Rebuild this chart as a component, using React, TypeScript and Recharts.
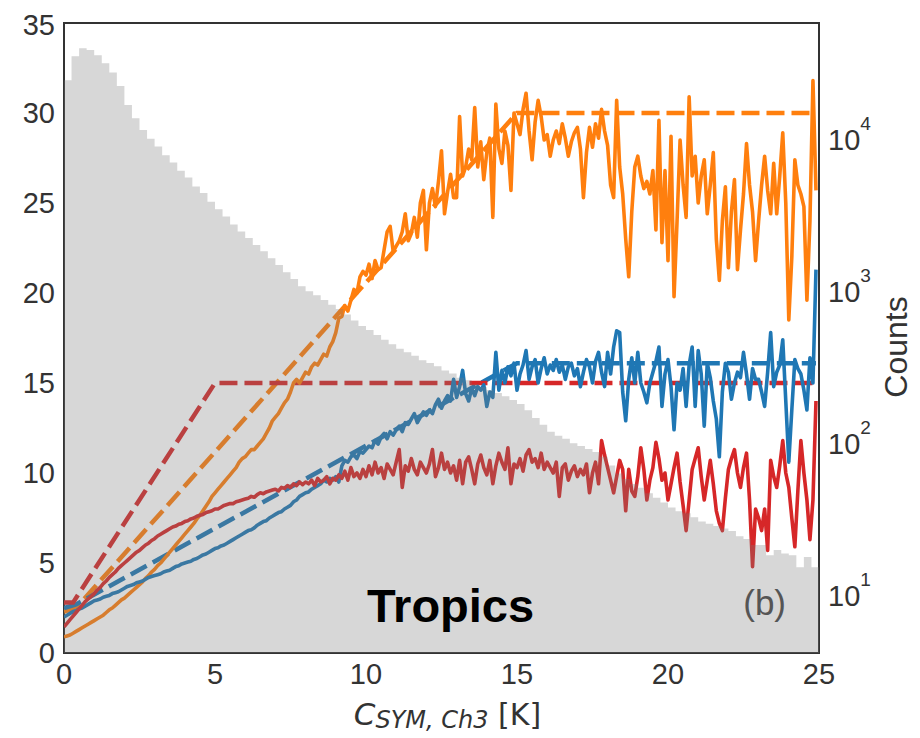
import React from 'react';
import { ComposedChart, Line, Area, XAxis, YAxis, ReferenceArea, ReferenceDot } from 'recharts';

// ---------- axes ----------
const X_TICKS = [0, 5, 10, 15, 20, 25];
const Y_TICKS = [0, 5, 10, 15, 20, 25, 30, 35];
const COUNT_TICKS = [10, 100, 1000, 10000];
const COUNT_DOMAIN = [4.09, 57100];

// ---------- histogram (counts per 0.25 K bin, starting at 0 K) ----------
const HIST_BIN = 0.25;
const histCounts = [
  24000, 34500, 39000, 38000, 35000, 31000, 27000, 22000, 16500, 13500,
  11300, 9900, 8800, 7700, 6900, 6100, 5500, 4800, 4350, 3800,
  3400, 3050, 2700, 2430, 2200, 1980, 1800, 1620, 1460, 1310,
  1180, 1060, 980, 925, 860, 800, 750, 690, 630, 580,
  545, 505, 470, 440, 410, 390, 370, 345, 331, 315,
  295, 282, 265, 255, 240, 230, 220, 210, 200, 189,
  178, 162, 144, 130, 117, 110, 105, 98, 94, 90,
  86, 80, 70, 62, 57, 53, 50, 46, 43, 40,
  37, 35, 34, 32, 30, 29, 28, 27, 26, 24,
  23, 21, 21, 18, 19.5, 18.5, 18, 15, 17.5, 15,
];

// ---------- solid curves (0.1 K steps from 0 K) ----------
const LINE_STEP = 0.1;
const orangeSolid = [
  0.9, 0.95, 1.0, 1.1, 1.2, 1.3, 1.4, 1.5, 1.6, 1.7,
  1.8, 1.9, 2.0, 2.1, 2.25, 2.4, 2.5, 2.65, 2.8, 2.95,
  3.05, 3.2, 3.35, 3.5, 3.65, 3.8, 3.95, 4.15, 4.3, 4.5,
  4.65, 4.85, 5.0, 5.2, 5.4, 5.6, 5.8, 6.0, 6.2, 6.4,
  6.6, 6.8, 7.0, 7.2, 7.45, 7.65, 7.9, 8.15, 8.4, 8.7,
  8.9, 9.1, 9.3, 9.5, 9.7, 9.9, 10.1, 10.3, 10.6, 10.8,
  10.9, 11.1, 11.3, 11.3, 11.5, 11.7, 11.9, 12.2, 12.5, 12.9,
  13.1, 13.3, 13.6, 13.9, 14.1, 14.5, 15.0, 15.2, 15.0, 15.3,
  15.6, 15.5, 15.9, 16.1, 16.0, 16.3, 16.6, 16.5, 17.0, 17.3,
  17.8, 18.6, 18.7, 19.3, 19.0, 19.6, 20.2, 20.0, 20.9, 21.2,
  21.0, 21.6, 20.8, 21.8, 21.3, 21.4, 22.4, 23.4, 23.7, 22.3,
  22.6, 22.9, 23.4, 24.4, 22.9, 23.3, 24.2, 23.1, 25.0, 25.7,
  22.4, 25.0, 25.8, 24.8, 26.2, 27.9, 24.4, 25.6, 26.6, 25.3,
  25.3, 29.8, 26.5, 27.0, 28.0, 27.4, 30.3, 27.0, 28.4, 26.3,
  27.8, 28.6, 24.2, 30.5, 28.0, 27.2, 29.0, 28.2, 25.7, 30.0,
  29.4, 28.8, 30.2, 31.1, 29.0, 27.4, 29.5, 30.7, 29.8, 28.5,
  28.8, 27.6, 28.5, 29.0, 28.3, 29.4, 28.6, 27.6, 28.4, 28.9,
  29.2, 28.0, 25.3, 27.8, 29.2, 28.1, 29.4, 28.6, 30.2, 29.0,
  28.2, 26.0, 25.3, 30.7, 27.0, 25.5, 23.0, 20.9, 24.5, 27.0,
  27.6, 26.5, 25.8, 26.2, 25.5, 26.8, 23.5, 29.6, 22.8, 26.8,
  21.8, 28.7, 19.8, 24.0, 28.5, 26.0, 24.2, 30.9, 26.5, 27.6,
  25.0, 26.5, 27.4, 24.4, 26.0, 27.8, 23.0, 20.7, 24.0, 25.9,
  21.4, 24.5, 26.3, 21.3, 23.5, 25.5, 28.3, 26.0, 24.5, 21.8,
  24.0, 26.0, 27.6, 25.7, 24.4, 27.2, 24.4, 26.5, 28.9, 25.0,
  18.5, 22.0, 27.4, 26.0, 25.5, 24.8, 19.6, 24.0, 31.8, 25.7,
];
const blueSolid = [
  2.0, 2.1, 2.2, 2.3, 2.35, 2.45, 2.5, 2.6, 2.7, 2.8,
  2.9, 2.95, 3.0, 3.1, 3.15, 3.2, 3.3, 3.35, 3.4, 3.5,
  3.6, 3.7, 3.75, 3.8, 3.9, 3.95, 4.0, 4.1, 4.2, 4.25,
  4.3, 4.35, 4.4, 4.5, 4.55, 4.6, 4.7, 4.8, 4.85, 4.95,
  5.0, 5.05, 5.1, 5.2, 5.25, 5.35, 5.45, 5.5, 5.6, 5.7,
  5.8, 5.85, 5.95, 6.0, 6.1, 6.2, 6.3, 6.4, 6.5, 6.6,
  6.7, 6.8, 6.85, 6.95, 7.1, 7.2, 7.3, 7.35, 7.5, 7.6,
  7.7, 7.8, 7.85, 8.0, 8.1, 8.2, 8.4, 8.5, 8.7, 8.8,
  8.9, 8.95, 9.1, 9.2, 9.3, 9.4, 9.6, 9.5, 9.7, 9.6,
  9.8, 9.5, 10.4, 10.7, 10.6, 10.9, 11.0, 10.8, 11.2, 11.1,
  11.3, 11.5, 11.4, 11.8, 11.6, 12.0, 12.2, 11.9, 12.3, 12.1,
  12.4, 12.6, 12.3, 12.8, 12.7, 13.0, 13.3, 12.8, 13.1, 13.4,
  13.2, 13.5, 13.3, 13.8, 14.1, 13.6, 14.0, 14.3, 14.0, 15.2,
  14.2, 14.8, 15.7, 14.4, 14.0, 14.7, 14.3, 14.8, 14.6, 14.9,
  13.7, 14.5, 14.2, 16.7, 14.6, 15.7, 15.0, 15.9, 15.4, 16.1,
  14.6, 15.5, 16.0, 16.8, 15.2, 15.9, 16.3, 15.0, 15.8, 16.4,
  15.5, 16.0, 15.7, 16.3, 15.6, 16.0, 15.2, 15.9, 16.1, 15.4,
  15.8, 14.8, 15.6, 16.3, 15.9, 15.0, 16.2, 16.7, 15.6, 14.8,
  16.7, 15.5, 17.0, 17.9, 17.8, 14.5, 12.9, 15.2, 16.4, 15.0,
  16.7, 15.0, 14.5, 13.9, 15.0, 15.6, 16.2, 17.0, 13.7, 15.5,
  16.3, 14.8, 12.4, 15.0, 14.6, 15.8, 13.7, 16.0, 17.0, 13.7,
  16.8, 15.5, 12.6, 16.1, 15.3, 14.0, 13.0, 10.9, 14.5, 16.1,
  15.6, 14.1, 15.0, 15.6, 15.3, 16.7, 15.5, 14.1, 15.8, 15.2,
  15.2, 14.5, 13.7, 15.6, 17.8, 14.8, 15.6, 16.0, 17.4, 14.0,
  10.6, 13.5, 16.3, 15.8, 15.5, 14.6, 13.5, 16.4, 15.0, 21.3,
];
const redSolid = [
  1.45, 1.65, 1.85, 2.05, 2.25, 2.45, 2.65, 2.85, 3.0, 3.15,
  3.3, 3.5, 3.65, 3.85, 4.0, 4.2, 4.35, 4.5, 4.7, 4.85,
  5.0, 5.15, 5.3, 5.45, 5.6, 5.7, 5.85, 6.0, 6.1, 6.25,
  6.35, 6.5, 6.6, 6.7, 6.8, 6.9, 7.0, 7.05, 7.15, 7.2,
  7.3, 7.35, 7.45, 7.5, 7.6, 7.65, 7.7, 7.8, 7.85, 7.9,
  8.0, 8.0, 8.1, 8.2, 8.25, 8.3, 8.3, 8.4, 8.45, 8.5,
  8.55, 8.6, 8.7, 8.65, 8.8, 8.9, 8.85, 8.95, 9.0, 9.05,
  9.1, 9.0, 9.2, 9.15, 9.3, 9.2, 9.4, 9.3, 9.5, 9.35,
  9.5, 9.4, 9.6, 9.3, 9.7, 9.5, 9.6, 9.8, 9.4, 9.7,
  9.6, 9.9, 9.7, 10.1, 9.6, 10.3, 9.8, 10.0, 9.7, 10.2,
  9.8, 10.4, 9.9, 10.6, 10.0, 10.3, 9.7, 10.5, 10.2, 9.9,
  10.6, 11.3, 9.2, 10.4, 10.1, 10.8, 10.2, 9.9, 10.6, 10.3,
  10.0, 10.5, 11.3, 9.8, 10.3, 11.1, 10.2, 10.6, 10.0, 10.4,
  9.6, 10.7, 9.4, 10.6, 10.9, 10.2, 9.4, 10.5, 11.0, 10.3,
  9.9, 10.7, 9.4, 10.4, 11.1, 10.6, 10.2, 11.4, 9.4, 10.5,
  10.3, 10.8, 10.1, 11.0, 11.3, 10.6, 10.8, 10.3, 11.1, 10.2,
  10.6, 10.3, 10.0, 10.6, 8.7, 10.3, 10.5, 9.6, 10.1, 10.4,
  9.8, 10.2, 9.9, 10.5, 8.9, 10.0, 10.6, 9.4, 11.8, 11.0,
  10.3, 9.6, 8.9, 9.8, 10.7, 10.2, 7.9, 10.2, 9.0, 8.7,
  9.8, 11.4, 10.2, 8.5, 9.6, 10.3, 11.7, 10.8, 9.6, 10.0,
  8.5, 9.4, 10.3, 11.1, 9.5, 8.2, 6.8, 8.5, 10.2, 10.8,
  11.4, 9.8, 8.5, 9.6, 10.7, 9.4, 7.9, 7.2, 6.8, 8.6,
  10.2, 10.8, 11.3, 10.0, 9.2, 10.3, 11.1, 8.5, 4.8, 8.0,
  7.5, 6.8, 8.0, 5.7, 10.7, 9.8, 9.2, 10.4, 11.8, 10.0,
  9.2, 7.5, 5.9, 9.0, 11.8, 10.0, 8.5, 6.3, 8.5, 14.0,
];

// ---------- dashed piecewise-linear fits ----------
const orangeDashK = [0, 0.4, 15, 24.9];
const orangeDashV = [2.3, 2.5, 30.0, 30.0];
const blueDashK = [0, 0.4, 15, 24.9];
const blueDashV = [2.5, 2.7, 16.1, 16.1];
const redDashK = [0, 0.3, 5, 24.9];
const redDashV = [2.8, 2.8, 15.0, 15.0];

// ---------- colours ----------
const ORANGE = '#ff7f0e';
const BLUE = '#1f77b4';
const RED = '#d62728';
const TEXT = '#333333';
const FONT = '"Liberation Sans", Arial, sans-serif';
const MATH_FONT = '"DejaVu Sans", sans-serif';

// ---------- derived tables ----------
const histData = [
  ...histCounts.map((c, i) => ({ k: i * HIST_BIN, count: c })),
  { k: histCounts.length * HIST_BIN, count: histCounts[histCounts.length - 1] },
];
const toSeries = (vals: number[]) => vals.map((v, i) => ({ k: Math.round(i * LINE_STEP * 10) / 10, v }));
const zipSeries = (ks: number[], vs: number[]) => ks.map((k, i) => ({ k, v: vs[i] }));

const orangeData = toSeries(orangeSolid);
const blueData = toSeries(blueSolid);
const redData = toSeries(redSolid);
const orangeDash = zipSeries(orangeDashK, orangeDashV);
const blueDash = zipSeries(blueDashK, blueDashV);
const redDash = zipSeries(redDashK, redDashV);

const CountTick = (props: any) => {
  const { x, y, payload } = props;
  const exp = Math.round(Math.log10(payload.value));
  return (
    <text x={x} y={y + 12} fill={TEXT} fontSize={29} fontFamily={FONT}>
      10
      <tspan fontSize={19} dy={-20}>{exp}</tspan>
    </text>
  );
};

const XLabel = (props: any) => {
  const vb = props.viewBox;
  const cx = vb.x + vb.width / 2 + 6;
  const y = vb.y + 72;
  return (
    <text x={cx} y={y} textAnchor="middle" fill={TEXT}>
      <tspan fontFamily={MATH_FONT} fontStyle="italic" fontSize={31}>C</tspan>
      <tspan fontFamily={MATH_FONT} fontStyle="italic" fontSize={24} dy={3}>SYM, Ch3</tspan>
      <tspan fontFamily={MATH_FONT} fontSize={30} dy={-3}> [K]</tspan>
    </text>
  );
};

const CountsLabel = (props: any) => {
  const vb = props.viewBox;
  const x = vb.x + 77;
  const y = vb.y + vb.height / 2 + 9;
  return (
    <text x={x} y={y} transform={`rotate(-90 ${x} ${y})`} textAnchor="middle" dominantBaseline="central"
      fill={TEXT} fontSize={32} fontFamily={FONT}>
      Counts
    </text>
  );
};

const TropicsLabel = (props: any) => {
  const { x, y } = props.viewBox;
  return (
    <text x={x} y={y} textAnchor="middle" fill="#000" fontSize={47} fontWeight="bold" fontFamily={FONT}>
      Tropics
    </text>
  );
};

const PanelLabel = (props: any) => {
  const { x, y } = props.viewBox;
  return (
    <text x={x} y={y} textAnchor="middle" fill="#555" fontSize={35} fontFamily={FONT}>
      (b)
    </text>
  );
};

export default function App() {
  return (
    <div style={{ width: 912, height: 730, background: '#fff' }}>
      <ComposedChart
        width={912}
        height={730}
        data={histData}
        margin={{ top: 15, right: 0, bottom: 35, left: 0 }}
      >
        <XAxis
          dataKey="k"
          type="number"
          domain={[0, 25]}
          ticks={X_TICKS}
          allowDataOverflow
          axisLine={false}
          tickLine={false}
          tickSize={8}
          tickMargin={2}
          height={50}
          tick={{ fill: TEXT, fontSize: 29, fontFamily: FONT }}
          label={{ content: XLabel }}
        />
        <YAxis
          yAxisId="left"
          type="number"
          domain={[0, 35]}
          ticks={Y_TICKS}
          allowDataOverflow
          axisLine={false}
          tickLine={false}
          tickSize={7}
          tickMargin={2}
          width={56}
          tick={{ fill: TEXT, fontSize: 29, fontFamily: FONT }}
        />
        <YAxis
          yAxisId="right"
          orientation="right"
          type="number"
          scale="log"
          domain={COUNT_DOMAIN}
          ticks={COUNT_TICKS}
          allowDataOverflow
          axisLine={false}
          tickLine={false}
          tickSize={7}
          tickMargin={2}
          width={101}
          tick={<CountTick />}
          label={{ content: CountsLabel }}
        />

        <Line yAxisId="left" data={orangeDash} dataKey="v" stroke={ORANGE} strokeWidth={4.5} strokeDasharray="18 7" dot={false} isAnimationActive={false} />
        <Line yAxisId="left" data={blueDash} dataKey="v" stroke={BLUE} strokeWidth={4.5} strokeDasharray="18 7" dot={false} isAnimationActive={false} />
        <Line yAxisId="left" data={redDash} dataKey="v" stroke={RED} strokeWidth={4.5} strokeDasharray="18 7" dot={false} isAnimationActive={false} />
        <Line yAxisId="left" data={orangeData} dataKey="v" stroke={ORANGE} strokeWidth={3.6} strokeLinejoin="round" dot={false} isAnimationActive={false} />
        <Line yAxisId="left" data={blueData} dataKey="v" stroke={BLUE} strokeWidth={3.6} strokeLinejoin="round" dot={false} isAnimationActive={false} />
        <Line yAxisId="left" data={redData} dataKey="v" stroke={RED} strokeWidth={3.6} strokeLinejoin="round" dot={false} isAnimationActive={false} />

        <Area
          yAxisId="right"
          dataKey="count"
          type="stepAfter"
          baseValue={COUNT_DOMAIN[0]}
          fill="#7a7a7a"
          fillOpacity={0.3}
          stroke="none"
          isAnimationActive={false}
          {...({ zIndex: 450 } as any)}
        />

        <ReferenceArea yAxisId="left" x1={0} x2={25} y1={0} y2={35} fill="none" stroke="#333" strokeWidth={2} ifOverflow="visible" />
        <ReferenceDot yAxisId="left" x={12.8} y={1.72} r={0} fill="none" stroke="none" label={TropicsLabel} />
        <ReferenceDot yAxisId="left" x={23.2} y={2.1} r={0} fill="none" stroke="none" label={PanelLabel} />
      </ComposedChart>
    </div>
  );
}
